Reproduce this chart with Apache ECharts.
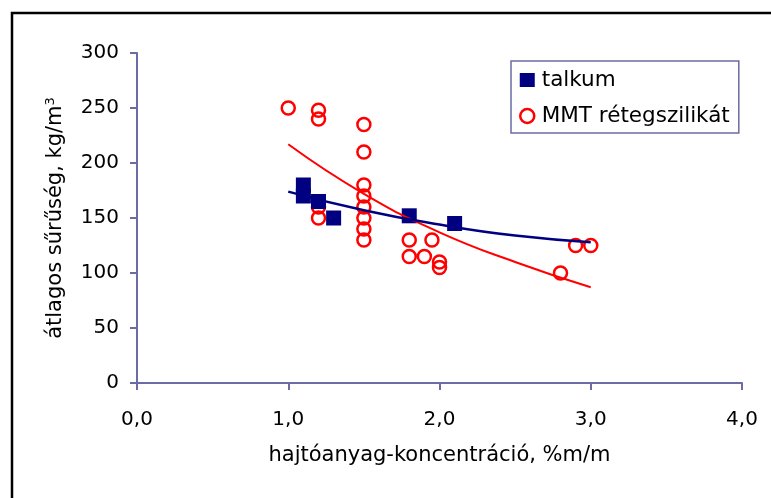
<!DOCTYPE html>
<html>
<head>
<meta charset="utf-8">
<script src="https://cdn.jsdelivr.net/npm/echarts@6/dist/echarts.min.js"></script>
<style>
html,body{margin:0;padding:0;background:#fff;}
#chart{width:771px;height:498px;}
</style>
</head>
<body>
<div id="chart"></div>
<script>
// Data
const talkumX = [1.1, 1.1, 1.2, 1.3, 1.8, 2.1];
const talkumY = [180, 170, 165, 150, 152, 145];

const mmtX = [1.0, 1.2, 1.2, 1.2, 1.2, 1.5, 1.5, 1.5, 1.5, 1.5, 1.5, 1.5, 1.5, 1.8, 1.8, 1.9, 1.95, 2.0, 2.0, 2.8, 2.9, 3.0];
const mmtY = [250, 248, 240, 160, 150, 235, 210, 180, 170, 160, 150, 140, 130, 130, 115, 115, 130, 110, 105, 100, 125, 125];

// Trendlines
const trendX = [1.0, 1.5, 2.0, 2.5, 3.0];
const talkumTrendY = [174, 157, 144, 134, 128];
const mmtTrendY = [217, 172, 137, 110, 87];

const xTicks = [0, 1, 2, 3, 4];
const yTicks = [0, 50, 100, 150, 200, 250, 300];

const seriesNames = ['talkum', 'MMT rétegszilikát'];
const xTitle = 'hajtóanyag-koncentráció, %m/m';
const yTitle = 'átlagos sűrűség, kg/m';

const zip = (xs, ys) => xs.map((x, i) => [x, ys[i]]);

const FONT = 'DejaVu Sans';
const AXIS_COLOR = '#6b6ba6';

const chart = echarts.init(document.getElementById('chart'), null, {renderer: 'canvas'});
chart.setOption({
  backgroundColor: '#fff',
  animation: false,
  grid: {left: 137, right: 29, top: 53, bottom: 115},
  graphic: [{
    type: 'rect',
    shape: {x: 12, y: 13, width: 820, height: 600},
    style: {fill: 'none', stroke: '#000', lineWidth: 2.5},
    silent: true,
    z: 100
  }],
  legend: {
    left: 511, top: 61,
    orient: 'vertical',
    padding: [8, 9, 6, 8],
    itemGap: 14,
    itemWidth: 15, itemHeight: 14,
    borderColor: AXIS_COLOR, borderWidth: 1.5,
    backgroundColor: '#fff',
    textStyle: {fontFamily: FONT, fontSize: 21.5, color: '#000', padding: [0, 0, 0, 2]},
    data: [
      {name: seriesNames[0], icon: 'rect', itemStyle: {color: '#000080'}},
      {name: seriesNames[1], icon: 'circle', itemStyle: {color: 'rgba(0,0,0,0)', borderColor: '#ff0000', borderWidth: 2.5}}
    ]
  },
  xAxis: {
    type: 'value', min: xTicks[0], max: xTicks[xTicks.length - 1], interval: 1,
    name: xTitle, nameLocation: 'middle', nameGap: 62,
    nameTextStyle: {fontFamily: FONT, fontSize: 21, color: '#000'},
    axisLine: {show: true, onZero: false, lineStyle: {color: AXIS_COLOR, width: 2}},
    axisTick: {show: true, inside: false, length: 7, lineStyle: {color: AXIS_COLOR, width: 2}},
    axisLabel: {fontFamily: FONT, fontSize: 20, color: '#000', margin: 27,
      formatter: v => v.toFixed(1).replace('.', ',')},
    splitLine: {show: false}
  },
  yAxis: {
    type: 'value', min: yTicks[0], max: yTicks[yTicks.length - 1], interval: 50,
    name: yTitle + '{sup|3}', nameLocation: 'middle', nameGap: 70, nameRotate: 90,
    nameTextStyle: {fontFamily: FONT, fontSize: 21, color: '#000',
      rich: {sup: {fontFamily: FONT, fontSize: 13, color: '#000', verticalAlign: 'top', padding: [0, 0, 10, 0]}}},
    axisLine: {show: true, lineStyle: {color: AXIS_COLOR, width: 2}},
    axisTick: {show: true, inside: false, length: 7, lineStyle: {color: AXIS_COLOR, width: 2}},
    axisLabel: {fontFamily: FONT, fontSize: 20, color: '#000', margin: 18},
    splitLine: {show: false}
  },
  series: [
    {
      name: seriesNames[1], type: 'scatter', data: zip(mmtX, mmtY),
      symbol: 'circle', symbolSize: 13,
      itemStyle: {color: 'rgba(0,0,0,0)', borderColor: '#ff0000', borderWidth: 2.5, opacity: 1},
      z: 2
    },
    {
      name: seriesNames[0], type: 'scatter', data: zip(talkumX, talkumY),
      symbol: 'rect', symbolSize: 15,
      itemStyle: {color: '#000080', opacity: 1},
      z: 3
    },
    {
      type: 'line', data: zip(trendX, mmtTrendY), smooth: true, showSymbol: false,
      lineStyle: {color: '#ff0000', width: 2}, z: 4, silent: true
    },
    {
      type: 'line', data: zip(trendX, talkumTrendY), smooth: true, showSymbol: false,
      lineStyle: {color: '#000080', width: 2.5}, z: 5, silent: true
    }
  ]
});
</script>
</body>
</html>
